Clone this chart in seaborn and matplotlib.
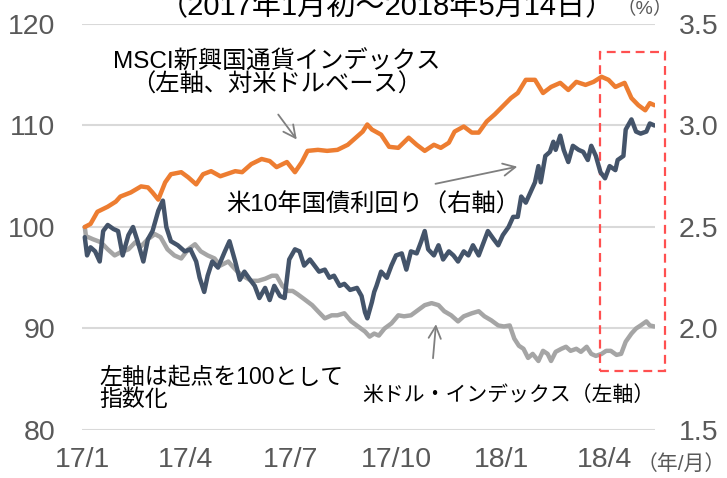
import pandas as pd
import numpy as np
import matplotlib
matplotlib.use("Agg")
import matplotlib.pyplot as plt
import matplotlib.patches as mpatches
import seaborn as sns

# days counted from 2017-01-01
msci_day = [2, 7, 13, 22, 29, 33, 42, 51, 57, 61, 66, 72, 77, 86, 92, 99, 105, 112, 120,
            133, 139, 147, 156, 163, 169, 178, 185, 191, 196, 205, 213, 222, 231, 239, 244,
            248, 252, 260, 267, 275, 284, 291, 298, 306, 312, 319, 324, 332, 339, 345, 352,
            359, 366, 373, 379, 386, 394, 401, 408, 416, 423, 430, 438, 445, 452, 458, 464,
            472, 478, 484, 490, 494, 498]
msci_val = [100.0, 100.3, 101.5, 102.0, 102.5, 103.0, 103.4, 104.0, 103.9, 103.4, 102.7,
            104.4, 105.2, 105.4, 104.9, 104.2, 105.2, 105.5, 105.0, 105.5, 105.4, 106.2,
            106.7, 106.5, 105.9, 106.4, 105.4, 106.4, 107.5, 107.6, 107.5, 107.6, 108.1,
            108.9, 109.4, 110.1, 109.6, 109.1, 107.9, 107.8, 108.8, 108.1, 107.5, 108.1,
            107.8, 108.3, 109.4, 109.9, 109.3, 109.3, 110.4, 111.1, 111.9, 112.7, 113.2,
            114.5, 114.5, 113.2, 113.8, 114.2, 113.5, 114.3, 114.0, 114.3, 114.8, 114.5,
            113.8, 114.2, 112.7, 112.0, 111.5, 112.2, 112.0]

ust_day = [2, 4, 7, 11, 15, 18, 22, 27, 31, 35, 40, 44, 48, 53, 57, 61, 66, 70, 73, 77,
           83, 89, 94, 99, 102, 106, 109, 113, 118, 124, 128, 133, 137, 141, 146, 150, 154,
           159, 163, 167, 172, 176, 180, 185, 189, 193, 198, 202, 206, 211, 215, 219, 224,
           228, 233, 239, 243, 246, 248, 252, 254, 256, 260, 265, 269, 273, 278, 282, 286,
           291, 295, 298, 301, 306, 310, 314, 319, 323, 327, 332, 336, 340, 345, 349, 353,
           358, 362, 366, 371, 375, 379, 382, 386, 390, 394, 397, 399, 403, 407, 410, 412,
           416, 419, 423, 427, 432, 436, 440, 443, 447, 451, 455, 459, 464, 466, 471, 473,
           478, 482, 486, 491, 494, 498]
ust_val = [2.45, 2.36, 2.40, 2.38, 2.33, 2.48, 2.51, 2.49, 2.48, 2.36, 2.46, 2.50, 2.43,
           2.33, 2.44, 2.48, 2.58, 2.63, 2.50, 2.43, 2.41, 2.38, 2.39, 2.33, 2.25, 2.18,
           2.26, 2.33, 2.30, 2.38, 2.43, 2.33, 2.24, 2.28, 2.24, 2.21, 2.15, 2.20, 2.14,
           2.21, 2.16, 2.15, 2.34, 2.39, 2.38, 2.31, 2.34, 2.31, 2.28, 2.29, 2.25, 2.26,
           2.21, 2.22, 2.19, 2.20, 2.16, 2.08, 2.05, 2.13, 2.18, 2.21, 2.28, 2.25, 2.31,
           2.36, 2.37, 2.29, 2.38, 2.37, 2.43, 2.48, 2.39, 2.36, 2.41, 2.34, 2.38, 2.36,
           2.33, 2.38, 2.36, 2.41, 2.36, 2.42, 2.48, 2.44, 2.41, 2.46, 2.50, 2.55, 2.55,
           2.65, 2.62, 2.67, 2.72, 2.80, 2.72, 2.85, 2.87, 2.92, 2.88, 2.95, 2.88, 2.82,
           2.90, 2.88, 2.87, 2.83, 2.90, 2.85, 2.77, 2.74, 2.80, 2.78, 2.83, 2.85, 2.98,
           3.03, 2.97, 2.96, 2.97, 3.01, 3.00]

dxy_day = [2, 3, 9, 16, 22, 28, 33, 40, 46, 51, 57, 63, 68, 74, 80, 86, 92, 98, 103, 109,
           115, 120, 127, 130, 135, 141, 147, 153, 159, 165, 169, 174, 179, 183, 187, 193,
           200, 205, 211, 217, 222, 228, 234, 240, 246, 250, 254, 258, 263, 269, 275, 280,
           286, 292, 298, 304, 310, 315, 321, 327, 332, 339, 345, 350, 356, 362, 367, 372,
           376, 380, 384, 388, 392, 397, 401, 405, 408, 412, 417, 421, 425, 430, 434, 439,
           443, 447, 452, 456, 460, 465, 469, 473, 478, 482, 486, 491, 494, 498]
dxy_val = [100.0, 99.1, 98.8, 98.5, 97.8, 97.2, 97.5, 97.8, 98.5, 98.1, 98.8, 99.3, 99.0,
           97.8, 97.2, 96.9, 97.8, 98.3, 97.6, 97.2, 96.9, 96.2, 96.6, 96.2, 95.6, 95.1,
           94.7, 94.7, 94.9, 95.2, 95.2, 94.2, 93.7, 93.7, 93.4, 92.9, 92.3, 91.7, 91.0,
           91.3, 91.3, 91.5, 90.7, 90.2, 89.7, 89.2, 89.5, 89.3, 90.0, 90.5, 91.3, 91.2,
           91.3, 91.8, 92.3, 92.5, 92.3, 91.7, 91.3, 90.7, 91.2, 91.5, 91.7, 91.2, 90.8,
           90.3, 90.2, 90.3, 89.0, 88.3, 88.0, 87.1, 87.5, 86.8, 87.8, 87.5, 86.8, 87.7,
           88.0, 88.2, 87.8, 88.0, 87.7, 88.2, 87.5, 87.3, 87.5, 87.8, 87.8, 87.4, 87.5,
           88.7, 89.5, 90.0, 90.3, 90.7, 90.3, 90.2]

tick_dates = ["2017-01-01", "2017-04-01", "2017-07-01", "2017-10-01", "2018-01-01", "2018-04-01"]
tick_labels = ["17/1", "17/4", "17/7", "17/10", "18/1", "18/4"]
left_ticks = [80, 90, 100, 110, 120]
right_ticks = [1.5, 2.0, 2.5, 3.0, 3.5]

ORANGE = "#ED7D31"
NAVY = "#44546A"
GRAY = "#A5A5A5"
TICK = "#595959"
ARROW = "#7F7F7F"

start = pd.Timestamp("2017-01-01")
def to_dates(days):
    return start + pd.to_timedelta(days, unit="D")

sns.set_theme(style="white")
plt.rcParams["font.family"] = ["Liberation Sans", "Noto Sans CJK JP"]

fig = plt.figure(figsize=(7.27, 4.78), dpi=100)
ax = fig.add_axes([82 / 727, 1 - 430 / 478, (655 - 82) / 727, (430 - 24) / 478])
ax2 = ax.twinx()

sns.lineplot(x=to_dates(dxy_day), y=dxy_val, ax=ax, color=GRAY, linewidth=3.2)
sns.lineplot(x=to_dates(msci_day), y=msci_val, ax=ax, color=ORANGE, linewidth=3.2)
sns.lineplot(x=to_dates(ust_day), y=ust_val, ax=ax2, color=NAVY, linewidth=3.2)

xmin = start - pd.Timedelta(hours=10)
xmax = pd.Timestamp("2018-05-14 12:00")
ax.set_xlim(xmin, xmax)
ax.set_ylim(80, 120)
ax2.set_ylim(1.5, 3.5)
ax.set_yticks(left_ticks)
ax.set_yticklabels([str(v) for v in left_ticks])
ax2.set_yticks(right_ticks)
ax2.set_yticklabels([f"{v:.1f}" for v in right_ticks])
ax.set_xticks(pd.to_datetime(tick_dates))
ax.set_xticklabels(tick_labels)
ax.set_xlabel("")
ax.set_ylabel("")
ax2.set_ylabel("")

ax.yaxis.grid(True, color="#D9D9D9", linewidth=1.5)
ax.xaxis.grid(False)
ax2.grid(False)
for a in (ax, ax2):
    for s in a.spines.values():
        s.set_visible(False)
ax.tick_params(axis="y", length=0, pad=19, labelsize=20.5, labelcolor=TICK)
ax.tick_params(axis="x", length=0, pad=12.5, labelsize=20.5, labelcolor=TICK)
ax2.tick_params(axis="y", length=0, pad=17, labelsize=20.5, labelcolor=TICK)

# highlight box around the latest weeks
box = mpatches.Rectangle((pd.Timestamp("2018-03-28"), 85.8),
                         pd.Timedelta(days=56), 117.25 - 85.8,
                         fill=False, edgecolor="#FF5050", linewidth=1.6,
                         linestyle=(0, (4, 2.5)), clip_on=False, zorder=5)
ax.add_patch(box)

arrow_kw = dict(arrowstyle="->", color=ARROW, lw=1.3, mutation_scale=22)

ax.text(pd.Timestamp("2017-06-19"), 115.1, "MSCI新興国通貨インデックス\n（左軸、対米ドルベース）",
        ha="center", va="center", linespacing=1.0, fontsize=17.5, color="black")
ax.annotate("", xy=(pd.Timestamp("2017-07-08"), 108.4), xytext=(pd.Timestamp("2017-06-19"), 111.3),
            arrowprops=arrow_kw)

ax.text(pd.Timestamp("2017-09-11"), 102.2, "米10年国債利回り（右軸）",
        ha="center", va="center", fontsize=17.5, color="black")
ax.annotate("", xy=(pd.Timestamp("2018-01-17"), 106.0), xytext=(pd.Timestamp("2017-11-02"), 104.2),
            arrowprops=arrow_kw)

ax.text(pd.Timestamp("2018-01-07"), 83.4, "米ドル・インデックス（左軸）",
        ha="center", va="center", fontsize=15, color="black")
ax.annotate("", xy=(pd.Timestamp("2017-11-05"), 90.7), xytext=(pd.Timestamp("2017-11-02"), 86.8),
            arrowprops=arrow_kw)

ax.text(pd.Timestamp("2017-01-16"), 84.1, "左軸は起点を100として\n指数化",
        ha="left", va="center", linespacing=0.95, fontsize=16.5, color="black")

fig.text(387 / 727, 1 - 15 / 478, "（2017年1月初～2018年5月14日）",
         ha="center", va="baseline", fontsize=21, color="black")
fig.text(645 / 727, 1 - 9 / 478, "（%）", ha="center", va="center", fontsize=14, color=TICK)
fig.text(681 / 727, 1 - 464 / 478, "（年/月）", ha="center", va="center", fontsize=15, color=TICK)

fig.savefig("out.png", dpi=100)
